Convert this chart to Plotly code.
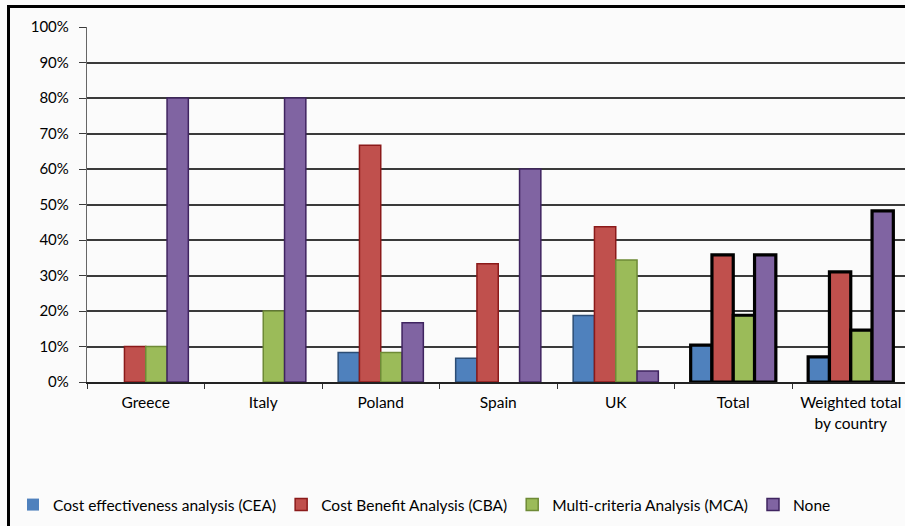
import plotly.graph_objects as go

categories = ["Greece", "Italy", "Poland", "Spain", "UK", "Total", "Weighted total<br>by country"]
cea = [0, 0, 8.3, 6.7, 18.75, 10.4, 7.1]
cba = [10, 0, 66.7, 33.3, 43.75, 35.8, 31.0]
mca = [10, 20, 8.3, 0, 34.4, 18.8, 14.6]
none = [80, 80, 16.7, 60, 3.1, 35.8, 48.2]
series_names = ["Cost effectiveness analysis (CEA)", "Cost Benefit Analysis (CBA)",
                "Multi-criteria Analysis (MCA)", "None"]
y_ticks = [0, 10, 20, 30, 40, 50, 60, 70, 80, 90, 100]
y_tick_labels = [f"{v}%" for v in y_ticks]

fills = ["#4F81BD", "#C0504D", "#9BBB59", "#8064A2"]
edges = ["#2C4D75", "#8B1A1A", "#6E8A36", "#3F2460"]
highlight = {"Total", "Weighted total<br>by country"}

W, H = 905, 526
L, T, B, R = 87, 27, 144, 0
pw, ph = W - L - R, H - T - B

fig = go.Figure()
for name, vals, fc, ec in zip(series_names, [cea, cba, mca, none], fills, edges):
    lc = ["#000000" if c in highlight else ec for c in categories]
    lw = [0 if v == 0 else (3.2 if c in highlight else 1.5) for c, v in zip(categories, vals)]
    fig.add_trace(go.Bar(
        x=categories, y=vals, name=name,
        marker=dict(color=fc, line=dict(color=lc, width=lw)),
    ))

def px_x(px):
    return (px - L) / pw

def px_y(py):
    return (H - B - py) / ph

shapes = [
    dict(type="line", xref="paper", yref="paper", x0=px_x(8.5), x1=px_x(8.5),
         y0=px_y(5), y1=px_y(530), line=dict(color="black", width=3)),
    dict(type="line", xref="paper", yref="paper", x0=px_x(7), x1=px_x(910),
         y0=px_y(6.5), y1=px_y(6.5), line=dict(color="black", width=3)),
]

fig.update_layout(
    width=W, height=H,
    margin=dict(l=L, r=R, t=T, b=B),
    paper_bgcolor="#fbfbfb", plot_bgcolor="#fbfbfb",
    font=dict(family="Lato, Open Sans, sans-serif", color="#000000", size=15),
    barmode="group", bargap=0.275, bargroupgap=0,
    showlegend=True,
    legend=dict(orientation="h", x=px_x(13), y=px_y(505), xanchor="left", yanchor="middle",
                font=dict(size=15.5, color="#000000"), bgcolor="rgba(0,0,0,0)", itemwidth=30,
                traceorder="normal"),
    shapes=shapes,
    xaxis=dict(range=[-0.5, -0.5 + pw / 117.5], showgrid=False, ticks="outside",
               tickson="boundaries", ticklen=5, tickcolor="#333", showline=True,
               linecolor="#222", linewidth=1.5, tickfont=dict(size=15.5, color="#000000"),
               ticklabelstandoff=6, fixedrange=True),
    yaxis=dict(range=[0, 100], tickvals=y_ticks, ticktext=y_tick_labels,
               showgrid=True, gridcolor="#3a3a3a", gridwidth=1.5, ticks="outside",
               ticklen=7, tickcolor="#3a3a3a", showline=True, linecolor="#666",
               linewidth=1.3, zeroline=False, tickfont=dict(size=15, color="#000000"),
               ticklabelstandoff=7, fixedrange=True),
)

fig.write_html("out.html")
